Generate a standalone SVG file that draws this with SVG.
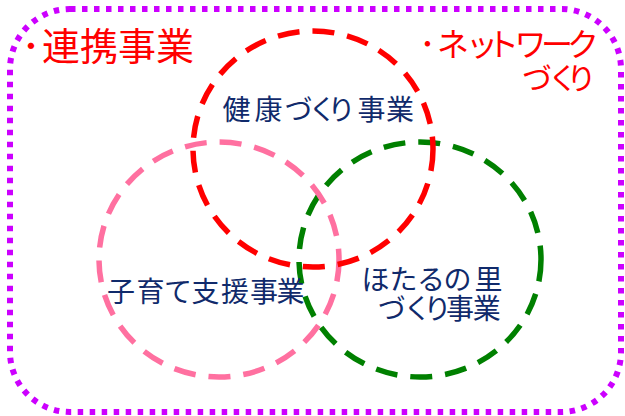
<svg xmlns="http://www.w3.org/2000/svg" width="625" height="416" viewBox="0 0 625 416">
<style>
.t{font-family:"Noto Sans CJK JP","Noto Sans CJK SC",sans-serif;}
.red{fill:#FF0000;}
.navy{fill:#102A6B;}
.c{fill:none;stroke-width:5.5;stroke-dasharray:22 13;}
</style>
<rect width="625" height="416" fill="#FFFFFF"/>
<g id="frame">
<rect x="10" y="9" width="611" height="403" rx="60" ry="60" fill="none" stroke="#CC00FF" stroke-width="6" stroke-dasharray="5.5 6.5"/>
</g>
<g id="connectors"></g>
<g id="circle-hotaru">
<ellipse cx="420" cy="259.5" rx="121" ry="117.5" class="c" stroke="#008000"/>
</g>
<g id="circle-kosodate">
<ellipse cx="219" cy="259.5" rx="120" ry="117.5" class="c" stroke="#FF70A0"/>
</g>
<g id="circle-kenko">
<ellipse cx="313" cy="149" rx="120" ry="118" class="c" stroke="#FF0000"/>
</g>
<g id="label-renkei">
<text class="t red" font-size="38" y="60"><tspan x="21.5">･</tspan><tspan x="42">連携事業</tspan></text>
</g>
<g id="label-network">
<text class="t red" font-size="32"><tspan x="419.5" y="56">･</tspan><tspan x="437 466 487 514.5 541 567" y="56">ネットワーク</tspan><tspan font-size="30" x="522 548 566.5" y="89">づくり</tspan></text>
</g>
<g id="label-kenko">
<text class="t navy" font-size="28" y="119.5" x="222.5 254.5 284.5 308.5 327.5 357.5 386">健康づくり事業</text>
</g>
<g id="label-kosodate">
<text class="t navy" font-size="28" y="302" x="107 136.5 164 191.5 221 250 276.5">子育て支援事業</text>
</g>
<g id="label-hotaru">
<text class="t navy" font-size="28"><tspan y="290" x="361.5 389.5 417 443.5 474.5">ほたるの里</tspan><tspan y="318.5" x="377.7 403.5 423.5 446 472.7">づくり事業</tspan></text>
</g>
</svg>
